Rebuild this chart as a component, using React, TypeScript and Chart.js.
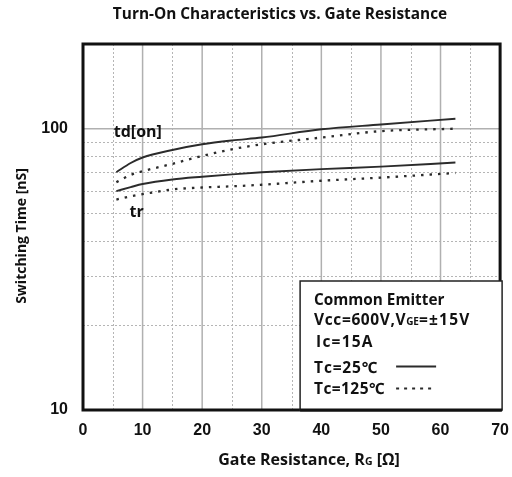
import React, { useEffect, useRef } from "react";
import { Chart, registerables } from "chart.js";

Chart.register(...registerables);

// ---- Data ----
const rgValues = [5.6, 8, 10, 15, 20, 25, 30, 40, 50, 62.5];
const tdOn25 = [70, 75.5, 79, 84, 88, 90.8, 93, 99.5, 103.5, 108.5];
const tdOn125 = [64.5, 68.5, 70.6, 75, 80, 84.5, 88, 93, 98, 100];
const tr25 = [60, 62, 63.6, 66, 67.5, 68.8, 70, 71.8, 73.3, 75.8];
const tr125 = [56, 57.5, 58.5, 60.8, 61.8, 62.4, 63.2, 65.3, 67, 69.6];

const xMajorTicks = [0, 10, 20, 30, 40, 50, 60, 70];
const xMinorGrid = [5, 15, 25, 35, 45, 55, 65];
const yTickLabels = [10, 100];
const yMinorGrid = [20, 30, 40, 50, 60, 70, 80, 90];

const titleText = "Turn-On Characteristics vs. Gate Resistance";
const yTitleText = "Switching Time [nS]";
const curveLabelTd = { text: "td[on]", x: 9.2, y: 97 };
const curveLabelTr = { text: "tr", x: 9, y: 50.4 };

const FONT = "'Open Sans', 'Noto Sans', sans-serif";
const TICK_FONT = "'Liberation Sans', Arial, sans-serif";
const LINE_COLOR = "#2b2b2b";

type Run = { t: string; size: number; ls?: number };

const toPoints = (ys: number[]) => rgValues.map((x, i) => ({ x, y: ys[i] }));

function setRunFont(ctx: any, r: Run) {
  ctx.font = `bold ${r.size}px ${FONT}`;
  ctx.letterSpacing = `${r.ls ?? 0}px`;
}

function drawRuns(ctx: CanvasRenderingContext2D, runs: Run[], x: number, y: number) {
  let cx = x;
  for (const r of runs) {
    setRunFont(ctx, r);
    ctx.fillText(r.t, cx, y);
    cx += ctx.measureText(r.t).width;
  }
  (ctx as any).letterSpacing = "0px";
  return cx;
}

function runsWidth(ctx: CanvasRenderingContext2D, runs: Run[]) {
  let w = 0;
  for (const r of runs) {
    setRunFont(ctx, r);
    w += ctx.measureText(r.t).width;
  }
  (ctx as any).letterSpacing = "0px";
  return w;
}

const decorPlugin = {
  id: "decor",
  beforeDatasetsDraw(chart: any) {
    const { ctx, chartArea, scales } = chart;
    const xs = scales.x;
    const ys = scales.y;
    ctx.save();
    // minor dotted grid
    ctx.strokeStyle = "#b5b5b5";
    ctx.lineWidth = 1;
    ctx.setLineDash([2, 2]);
    for (const v of xMinorGrid) {
      const px = Math.round(xs.getPixelForValue(v)) + 0.5;
      ctx.beginPath();
      ctx.moveTo(px, chartArea.top);
      ctx.lineTo(px, chartArea.bottom);
      ctx.stroke();
    }
    for (const v of yMinorGrid) {
      const py = Math.round(ys.getPixelForValue(v)) + 0.5;
      ctx.beginPath();
      ctx.moveTo(chartArea.left, py);
      ctx.lineTo(chartArea.right, py);
      ctx.stroke();
    }
    // major solid grid
    ctx.setLineDash([]);
    ctx.strokeStyle = "#b0b0b0";
    ctx.lineWidth = 1.5;
    for (const v of xMajorTicks) {
      const px = xs.getPixelForValue(v);
      ctx.beginPath();
      ctx.moveTo(px, chartArea.top);
      ctx.lineTo(px, chartArea.bottom);
      ctx.stroke();
    }
    const p100 = ys.getPixelForValue(100);
    ctx.beginPath();
    ctx.moveTo(chartArea.left, p100);
    ctx.lineTo(chartArea.right, p100);
    ctx.stroke();
    ctx.restore();
  },
  afterDraw(chart: any) {
    const { ctx, chartArea, scales } = chart;
    const xs = scales.x;
    const ys = scales.y;
    ctx.save();

    // frame
    ctx.strokeStyle = "#111";
    ctx.lineWidth = 3;
    ctx.strokeRect(chartArea.left, chartArea.top, chartArea.right - chartArea.left, chartArea.bottom - chartArea.top);

    // curve labels
    ctx.fillStyle = "#111";
    ctx.font = `bold 16px ${FONT}`;
    ctx.textAlign = "center";
    ctx.textBaseline = "middle";
    ctx.fillText(curveLabelTd.text, xs.getPixelForValue(curveLabelTd.x), ys.getPixelForValue(curveLabelTd.y));
    ctx.fillText(curveLabelTr.text, xs.getPixelForValue(curveLabelTr.x), ys.getPixelForValue(curveLabelTr.y));

    // legend box
    const bl = chartArea.right - 200;
    const bt = 281;
    const br = chartArea.right + 2;
    const bb = chartArea.bottom;
    ctx.fillStyle = "#fff";
    ctx.fillRect(bl, bt, br - bl, bb - bt);
    ctx.strokeStyle = "#222";
    ctx.lineWidth = 1.5;
    ctx.strokeRect(bl, bt, br - bl, bb - bt);
    ctx.lineWidth = 3;
    ctx.strokeStyle = "#111";
    ctx.beginPath();
    ctx.moveTo(bl, bb);
    ctx.lineTo(br, bb);
    ctx.stroke();

    ctx.fillStyle = "#111";
    ctx.textAlign = "left";
    ctx.textBaseline = "alphabetic";
    const tx = bl + 14;
    drawRuns(ctx, [{ t: "Common Emitter", size: 15.3 }], tx, 305);
    drawRuns(
      ctx,
      [
        { t: "Vcc=600V,V", size: 15.5, ls: 0.6 },
        { t: "GE", size: 10, ls: 0 },
        { t: "=±15V", size: 15.5, ls: 1.2 },
      ],
      tx,
      325
    );
    drawRuns(ctx, [{ t: "Ic=15A", size: 15.5, ls: 1.2 }], tx + 2, 347);
    drawRuns(ctx, [{ t: "Tc=25℃", size: 15.5, ls: 0.8 }], tx, 373);
    drawRuns(ctx, [{ t: "Tc=125℃", size: 15.5, ls: 0.4 }], tx, 394);
    // line samples
    ctx.strokeStyle = LINE_COLOR;
    ctx.lineWidth = 1.8;
    ctx.setLineDash([]);
    ctx.beginPath();
    ctx.moveTo(bl + 96, 366.5);
    ctx.lineTo(bl + 136, 366.5);
    ctx.stroke();
    ctx.setLineDash([3, 5]);
    ctx.beginPath();
    ctx.moveTo(bl + 96, 388.5);
    ctx.lineTo(bl + 134, 388.5);
    ctx.stroke();
    ctx.setLineDash([]);

    // chart title
    ctx.fillStyle = "#111";
    ctx.textAlign = "center";
    ctx.font = `bold 15.4px ${FONT}`;
    ctx.fillText(titleText, 280, 19);

    // y-axis title
    ctx.save();
    ctx.translate(26, 236);
    ctx.rotate(-Math.PI / 2);
    ctx.textAlign = "center";
    ctx.font = `bold 14px ${FONT}`;
    ctx.fillText(yTitleText, 0, 0);
    ctx.restore();

    // x-axis title with subscript G
    const xRuns: Run[] = [
      { t: "Gate Resistance, R", size: 16 },
      { t: "G", size: 10.5 },
      { t: " [Ω]", size: 16 },
    ];
    ctx.textAlign = "left";
    const w = runsWidth(ctx, xRuns);
    drawRuns(ctx, xRuns, 309 - w / 2, 465);

    ctx.restore();
  },
};

export default function App() {
  const canvasRef = useRef<HTMLCanvasElement | null>(null);

  useEffect(() => {
    if (!canvasRef.current) return;
    const lineDs = (label: string, ys: number[], dashed: boolean) => ({
      label,
      data: toPoints(ys),
      borderColor: LINE_COLOR,
      backgroundColor: LINE_COLOR,
      borderWidth: dashed ? 2.3 : 1.9,
      borderDash: dashed ? [2.5, 6] : [],
      pointRadius: 0,
      cubicInterpolationMode: "monotone" as const,
      fill: false,
    });
    const chart = new Chart(canvasRef.current, {
      type: "line",
      data: {
        datasets: [
          lineDs("td(on) Tc=25℃", tdOn25, false),
          lineDs("td(on) Tc=125℃", tdOn125, true),
          lineDs("tr Tc=25℃", tr25, false),
          lineDs("tr Tc=125℃", tr125, true),
        ],
      },
      options: {
        animation: false,
        responsive: false,
        maintainAspectRatio: false,
        layout: { padding: { top: 44, right: 2, left: 0, bottom: 0 } },
        plugins: {
          legend: { display: false },
          tooltip: { enabled: false },
          title: { display: false },
        },
        scales: {
          x: {
            type: "linear",
            min: 0,
            max: 70,
            afterBuildTicks: (scale: any) => {
              scale.ticks = xMajorTicks.map((v) => ({ value: v }));
            },
            ticks: {
              color: "#111",
              font: { family: TICK_FONT, size: 16, weight: "bold" },
              padding: 3,
              maxRotation: 0,
              autoSkip: false,
            },
            grid: { display: false },
            border: { display: false },
            afterFit: (scale: any) => {
              scale.height = 67;
            },
          },
          y: {
            type: "logarithmic",
            min: 10,
            max: 200,
            afterBuildTicks: (scale: any) => {
              scale.ticks = yTickLabels.map((v) => ({ value: v }));
            },
            ticks: {
              color: "#111",
              font: { family: TICK_FONT, size: 16, weight: "bold" },
              padding: 7,
              autoSkip: false,
              callback: (v: any) => String(v),
            },
            grid: { display: false },
            border: { display: false },
            afterFit: (scale: any) => {
              scale.width = 83;
            },
          },
        },
      },
      plugins: [decorPlugin],
    });
    return () => chart.destroy();
  }, []);

  return (
    <div style={{ position: "fixed", left: 0, top: 0, width: 512, height: 477, background: "#fff" }}>
      <canvas ref={canvasRef} width={512} height={477} style={{ width: 512, height: 477, display: "block" }} />
    </div>
  );
}
